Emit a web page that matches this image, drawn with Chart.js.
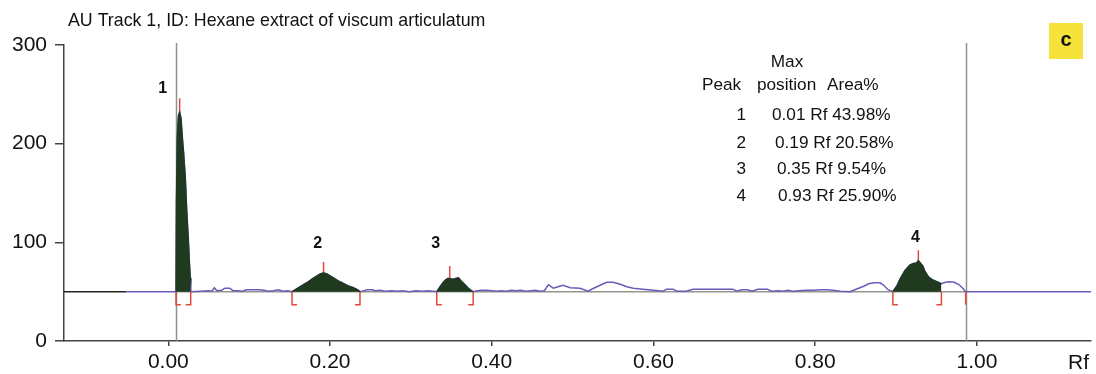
<!DOCTYPE html>
<html>
<head>
<meta charset="utf-8">
<script src="https://cdn.jsdelivr.net/npm/chart.js@4.4.1/dist/chart.umd.min.js"></script>
<style>
    body { margin: 0; background: #fff; }
    #wrap { width: 1096px; height: 374px; }
</style>
</head>
<body>
<div id="wrap"><canvas id="densitogram" width="1096" height="374"></canvas></div>
<script>
// Scan trace (Rf -> AU)
const traceRf = [
    -0.052, 0.0095, 0.0100, 0.0110, 0.0125, 0.0140, 0.0157, 0.0175, 0.0190, 0.0210, 0.0228, 0.0247, 0.0262, 0.0272, 0.0277,
    0.0279, 0.040, 0.050, 0.054, 0.057, 0.060, 0.066, 0.070, 0.076, 0.080, 0.086, 0.092, 0.096, 0.104, 0.112, 0.118,
    0.124, 0.130, 0.136, 0.142, 0.148,
    0.153, 0.157, 0.162, 0.167, 0.173, 0.179, 0.184, 0.188, 0.192, 0.196, 0.200, 0.204, 0.210, 0.216, 0.222, 0.229, 0.234, 0.237,
    0.242, 0.246, 0.252, 0.256, 0.262, 0.268, 0.276, 0.284, 0.290, 0.298, 0.306, 0.314, 0.322, 0.328,
    0.332, 0.336, 0.340, 0.343, 0.346, 0.349, 0.352, 0.356, 0.359, 0.362, 0.365, 0.368, 0.371, 0.374, 0.377,
    0.382, 0.388, 0.394, 0.400, 0.406, 0.412, 0.418, 0.424, 0.430, 0.436, 0.442, 0.448, 0.454, 0.460, 0.465,
    0.470, 0.476, 0.482, 0.488, 0.497, 0.509, 0.519, 0.526, 0.534, 0.542, 0.550, 0.559, 0.567, 0.575, 0.587,
    0.600, 0.612, 0.616, 0.624, 0.629, 0.640, 0.649, 0.670, 0.698, 0.703, 0.709, 0.716, 0.722, 0.729, 0.741,
    0.746, 0.755, 0.760, 0.766, 0.772, 0.780, 0.788, 0.797, 0.806, 0.815, 0.822, 0.831, 0.843, 0.852, 0.860,
    0.866, 0.873, 0.880, 0.884, 0.890,
    0.896, 0.901, 0.905, 0.911, 0.917, 0.921, 0.925, 0.9275, 0.930, 0.933, 0.936, 0.940, 0.944, 0.948, 0.952, 0.956,
    0.961, 0.966, 0.972, 0.978, 0.983, 0.986, 1.141
];
const traceAu = [
    50, 50, 140, 205, 228, 232, 226, 205, 190, 166, 132, 104, 78, 64, 62,
    50, 50.5, 51, 50.5, 54, 51, 51.5, 53.5, 53.5, 51, 51, 50.5, 52, 52, 52, 51.5,
    50.5, 51, 52, 50.5, 51,
    50, 52, 54.5, 57, 60, 63.5, 66, 68, 69, 68, 66, 64, 61, 58.5, 56, 54, 52, 50,
    51, 52, 52, 51, 51.5, 50.5, 51, 50.5, 51, 50, 51, 50.5, 51, 50.5,
    50, 55, 59.5, 62, 63.5, 63, 62.5, 63.5, 64, 61, 58.5, 56, 53.5, 51.5, 50,
    51, 51.5, 51.5, 51, 50.5, 51, 50.5, 51.5, 51, 51.5, 50.5, 51, 51.5, 50.5, 51,
    57, 53.5, 55, 56.5, 54, 53.5, 50.5, 53.5, 56.5, 59.5, 59.5, 57.5, 55, 53.5, 52.5,
    51.5, 50.5, 52.5, 52.5, 50.5, 50.5, 52.5, 52.5, 52.5, 50.5, 52, 52, 50.5, 52.5, 52.5,
    50.5, 51, 50.5, 51.5, 50.5, 51, 51.5, 51.5, 52, 52, 51.5, 50.5, 50, 53, 55.5,
    58, 59, 59, 57, 52,
    50, 56, 63, 71.5, 77, 78.5, 79, 81.5, 79, 76, 70, 65, 62.5, 61, 59.5, 58,
    59.5, 60, 59.5, 57, 53, 50, 50
];

// Integrated peaks
const peakIds = [1, 2, 3, 4];
const peakStartRf = [0.0095, 0.153, 0.332, 0.896];
const peakEndRf = [0.0277, 0.237, 0.377, 0.956];
const peakMarkRf = [0.014, 0.192, 0.348, 0.9275];
const peakMarkAu = [246, 80, 76, 92];
const peakMaxRf = [0.01, 0.19, 0.35, 0.93];
const peakAreaPct = [43.98, 20.58, 9.54, 25.90];

const baselineAu = 50;
const startLineRf = 0.0095;
const frontLineRf = 0.986;
const rfMin = -0.129;
const rfMax = 1.141;
const rfTicks = [0, 0.2, 0.4, 0.6, 0.8, 1.0];
const auTicks = [0, 100, 200, 300];

const FONT = '"Liberation Sans", Arial, sans-serif';
const RED = '#e04a3c';
const GREEN = '#1f3a1e';
const PURPLE = '#6a5cb8';

function pts(xs, ys) {
    return xs.map((x, i) => ({ x: x, y: ys[i] }));
}

const trace = pts(traceRf, traceAu);

const peakSets = peakIds.map((id, i) => ({
    label: 'Peak ' + id,
    data: trace.filter(p => p.x >= peakStartRf[i] && p.x <= peakEndRf[i]),
    borderColor: GREEN,
    borderWidth: 1.2,
    backgroundColor: GREEN,
    fill: { value: baselineAu },
    order: 0
}));

// marks, labels and the peak table
const densitoMarks = {
    id: 'densitoMarks',
    beforeDatasetsDraw(chart) {
        const { ctx, scales: { x, y } } = chart;
        ctx.save();
        ctx.strokeStyle = '#8d918f';
        ctx.lineWidth = 1.5;
        [startLineRf, frontLineRf].forEach(rf => {
            const px = Math.round(x.getPixelForValue(rf)) + 0.5;
            ctx.beginPath();
            ctx.moveTo(px, y.getPixelForValue(0));
            ctx.lineTo(px, y.getPixelForValue(302));
            ctx.stroke();
        });
        // peak max markers (fill covers the lower part)
        ctx.strokeStyle = RED;
        ctx.lineWidth = 1.5;
        peakMarkRf.forEach((rf, i) => {
            const px = x.getPixelForValue(rf);
            ctx.beginPath();
            ctx.moveTo(px, y.getPixelForValue(baselineAu));
            ctx.lineTo(px, y.getPixelForValue(peakMarkAu[i]));
            ctx.stroke();
        });
        ctx.restore();
    },
    afterDatasetsDraw(chart) {
        const { ctx, scales: { x, y } } = chart;
        const y0 = y.getPixelForValue(baselineAu);
        const depth = 13, arm = 5;
        ctx.save();
        ctx.strokeStyle = RED;
        ctx.lineWidth = 1.5;
        peakIds.forEach((id, i) => {
            const xs = x.getPixelForValue(peakStartRf[i]);
            const xe = x.getPixelForValue(peakEndRf[i]);
            ctx.beginPath();
            ctx.moveTo(xs, y0);
            ctx.lineTo(xs, y0 + depth);
            ctx.lineTo(xs + arm, y0 + depth);
            ctx.moveTo(xe, y0);
            ctx.lineTo(xe, y0 + depth);
            ctx.lineTo(xe - arm, y0 + depth);
            ctx.stroke();
        });
        const xf = x.getPixelForValue(frontLineRf);
        ctx.beginPath();
        ctx.moveTo(xf, y0);
        ctx.lineTo(xf, y0 + depth);
        ctx.stroke();

        // peak numbers
        const shift = [[-17, -10], [-6, -18], [-14, -22], [-3, -13]];
        ctx.fillStyle = '#111';
        ctx.font = 'bold 16px ' + FONT;
        ctx.textAlign = 'center';
        ctx.textBaseline = 'middle';
        peakIds.forEach((id, i) => {
            ctx.fillText(String(id), x.getPixelForValue(peakMarkRf[i]) + shift[i][0],
                y.getPixelForValue(peakMarkAu[i]) + shift[i][1]);
        });
        ctx.restore();
    },
    afterDraw(chart) {
        const { ctx, chartArea } = chart;
        ctx.save();
        ctx.fillStyle = '#111';
        ctx.textBaseline = 'middle';

        ctx.font = '17.8px ' + FONT;
        ctx.textAlign = 'left';
        ctx.fillText('AU Track 1, ID: Hexane extract of viscum articulatum', 68, 21);

        // peak table
        ctx.font = '17.2px ' + FONT;
        ctx.textAlign = 'center';
        ctx.fillText('Max', 787, 62);
        ctx.textAlign = 'left';
        ctx.fillText('Peak', 702, 85);
        ctx.fillText('position', 757, 85);
        ctx.fillText('Area%', 827, 85);
        const rowY = [115, 143, 169, 196];
        const rowX = [772, 775, 777, 778];
        peakIds.forEach((id, i) => {
            ctx.textAlign = 'right';
            ctx.fillText(String(id), 746, rowY[i]);
            ctx.textAlign = 'left';
            ctx.fillText(peakMaxRf[i].toFixed(2) + ' Rf ' + peakAreaPct[i].toFixed(2) + '%', rowX[i], rowY[i]);
        });

        // axis unit
        ctx.font = '21px ' + FONT;
        ctx.fillText('Rf', chartArea.right - 23, 363);

        // panel letter
        ctx.fillStyle = '#f5e33c';
        ctx.fillRect(1049, 23, 34, 36);
        ctx.fillStyle = '#111';
        ctx.font = 'bold 20px ' + FONT;
        ctx.textAlign = 'center';
        ctx.fillText('c', 1066, 40);
        ctx.restore();
    }
};

const ctx = document.getElementById('densitogram').getContext('2d');
new Chart(ctx, {
    type: 'line',
    data: {
        datasets: [
            ...peakSets,
            {
                label: 'Scan',
                data: trace,
                borderColor: PURPLE,
                borderWidth: 1.5,
                order: 1
            },
            {
                label: 'Baseline',
                data: [{ x: startLineRf, y: baselineAu }, { x: frontLineRf, y: baselineAu }],
                borderColor: '#8e9a8c',
                borderWidth: 1.5,
                order: 2
            },
            {
                label: 'Zero line',
                data: [{ x: rfMin, y: baselineAu }, { x: traceRf[0], y: baselineAu }],
                borderColor: '#222',
                borderWidth: 1.5,
                order: 2
            }
        ]
    },
    options: {
        responsive: false,
        animation: false,
        events: [],
        elements: { point: { radius: 0 }, line: { tension: 0 } },
        layout: { padding: { top: 45, right: 5, left: 0, bottom: 0 } },
        plugins: {
            legend: { display: false },
            tooltip: { enabled: false }
        },
        scales: {
            x: {
                type: 'linear',
                min: rfMin,
                max: rfMax,
                afterFit: s => { s.height = 33; },
                afterBuildTicks: s => { s.ticks = rfTicks.map(v => ({ value: v })); },
                ticks: {
                    color: '#111',
                    font: { family: FONT, size: 21 },
                    padding: 4,
                    maxRotation: 0,
                    autoSkip: false,
                    callback: v => v.toFixed(2)
                },
                grid: { drawOnChartArea: false, tickLength: 5, color: '#444', lineWidth: 1.5 },
                border: { color: '#444', width: 1.5 }
            },
            y: {
                min: 0,
                max: 300,
                afterFit: s => { s.width = 64; },
                afterBuildTicks: s => { s.ticks = auTicks.map(v => ({ value: v })); },
                ticks: {
                    color: '#111',
                    font: { family: FONT, size: 21 },
                    padding: 8
                },
                grid: { drawOnChartArea: false, tickLength: 9, color: '#444', lineWidth: 1.5 },
                border: { color: '#444', width: 1.5 }
            }
        }
    },
    plugins: [densitoMarks]
});
</script>
</body>
</html>
